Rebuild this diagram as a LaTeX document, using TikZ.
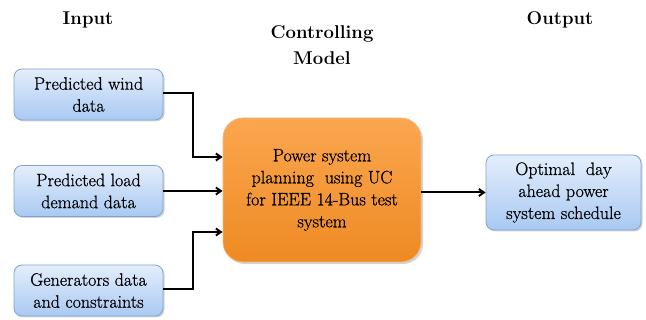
\documentclass[tikz,border=0pt]{standalone}
\usepackage{fontspec}
\setmainfont{Latin Modern Roman}
\newfontfamily\boxfont{Latin Modern Roman}[FakeBold=0.7]
\usetikzlibrary{shadows,arrows.meta}
\definecolor{bluetop}{HTML}{E4EEFC}
\definecolor{bluebot}{HTML}{A9C9F2}
\definecolor{blueline}{HTML}{7EA3D6}
\definecolor{orgtop}{HTML}{FBA650}
\definecolor{orgbot}{HTML}{EE8A22}
\definecolor{orgline}{HTML}{F7B679}
\tikzset{
  inbox/.style={draw=blueline, line width=0.8pt, rounded corners=8pt,
    top color=bluetop, bottom color=bluebot,
    drop shadow={shadow xshift=1.5pt, shadow yshift=-1.5pt, opacity=0.35},
    minimum width=149pt, minimum height=51pt, align=center,
    font=\boxfont\fontsize{18}{22}\selectfont, inner sep=2pt},
  corebox/.style={draw=orgline, line width=0.8pt, rounded corners=20pt,
    top color=orgtop, bottom color=orgbot,
    drop shadow={shadow xshift=2pt, shadow yshift=-2pt, opacity=0.35},
    minimum width=198pt, minimum height=144pt, align=center,
    font=\boxfont\fontsize{18}{22}\selectfont, inner sep=2pt},
  heading/.style={font=\fontsize{18.5}{26}\selectfont\bfseries, align=center},
  link/.style={-{Straight Barb[length=5pt,width=7pt]}, line width=2pt, black}
}
\begin{document}
\begin{tikzpicture}[x=1pt,y=-1pt]
  \useasboundingbox (0,0) rectangle (646,320);
  % column headings
  \node[heading] (hin) at (88,20) {Input};
  \node[heading] (hmid) at (322,45) {Controlling\\Model};
  \node[heading] (hout) at (560,20) {Output};
  % input boxes
  \node[inbox] (wind) at (88.5,94.5) {Predicted wind\\data};
  \node[inbox] (load) at (88.5,191) {Predicted load\\demand data};
  \node[inbox] (gen) at (88.5,290.5) {Generators data\\and constraints};
  % central model
  \node[corebox] (core) at (322,190) {Power system\\planning\ \ using UC\\for IEEE 14-Bus test\\system};
  % output box
  \node[inbox, minimum width=155pt, minimum height=75pt] (out) at (563.5,192.5)
    {Optimal\ \ day\\ahead power\\system schedule};
  % connectors
  \coordinate (w1) at (193,93);
  \coordinate (w2) at (193,157);
  \coordinate (g1) at (193,289);
  \coordinate (g2) at (193,232);
  \draw[link] (wind.east |- w1) -- (w1) -- (w2) -- (core.west |- w2);
  \draw[link] (load.east) -- (core.west |- load.east);
  \draw[link] (gen.east |- g1) -- (g1) -- (g2) -- (core.west |- g2);
  \draw[link] (core.east |- out.west) -- (out.west);
\end{tikzpicture}
\end{document}
